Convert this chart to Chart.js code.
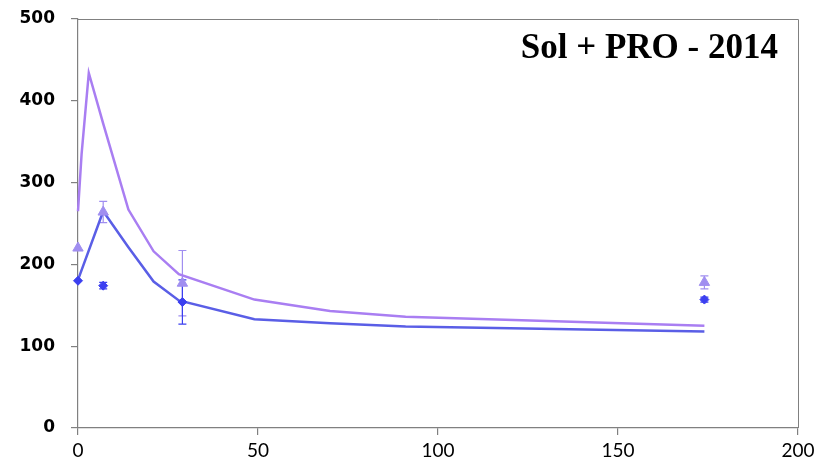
<!DOCTYPE html>
<html>
<head>
<meta charset="utf-8">
<script src="https://cdn.jsdelivr.net/npm/chart.js@4.4.1/dist/chart.umd.min.js"></script>
<style>
  body { margin: 0; background: #fff; }
  #wrap { width: 821px; height: 470px; }
</style>
</head>
<body>
<div id="wrap"><canvas id="chart"></canvas></div>
<script>
// simulated curves
const simTimesPurple = [0, 1, 3, 7, 14, 21, 28, 49, 70, 91, 174]
const simPurple = [265, 335, 434, 372, 267, 216, 188, 157, 143, 136, 125]
const simTimesBlue = [0, 7, 14, 21, 28, 49, 70, 91, 174]
const simBlue = [181, 265, 221, 179, 156, 133, 128, 124, 118]

// observed points + error
const obsTimes = [0, 7, 29, 174]
const obsBlue = [180, 174, 154, 157]
const obsBlueErr = [0, 4, 27, 3]
const obsPurple = [220, 264, 177, 178]
const obsPurpleErr = [0, 13, 40, 8]

const xTicks = [0, 50, 100, 150, 200]
const yTicks = [0, 100, 200, 300, 400, 500]
const title = 'Sol + PRO - 2014'

const purpleLine = '#a97ef2'
const blueLine = '#5a5ee6'
const blueMark = '#3b3ff0'
const purpleMark = '#a08ef0'

function pts(xs, ys) {
    return xs.map((x, i) => ({ x: x, y: ys[i] }))
}

// error bars, frame and title
const extras = {
    id: 'extras',
    beforeDatasetsDraw(chart) {
        const ctx = chart.ctx
        const xs = chart.scales.x, ys = chart.scales.y
        const bars = [[obsPurple, obsPurpleErr, purpleMark], [obsBlue, obsBlueErr, blueMark]]
        ctx.save()
        ctx.lineWidth = 1.2
        bars.forEach(b => {
            ctx.strokeStyle = b[2]
            obsTimes.forEach((t, i) => {
                if (!b[1][i]) return
                const px = xs.getPixelForValue(t)
                const top = ys.getPixelForValue(b[0][i] + b[1][i])
                const bot = ys.getPixelForValue(b[0][i] - b[1][i])
                ctx.beginPath()
                ctx.moveTo(px, top); ctx.lineTo(px, bot)
                ctx.moveTo(px - 4, top); ctx.lineTo(px + 4, top)
                ctx.moveTo(px - 4, bot); ctx.lineTo(px + 4, bot)
                ctx.stroke()
            })
        })
        ctx.restore()
    },
    afterDraw(chart) {
        const ctx = chart.ctx
        const a = chart.chartArea
        ctx.save()
        ctx.strokeStyle = '#808080'
        ctx.lineWidth = 1
        ctx.beginPath()
        ctx.moveTo(a.left, a.top + 0.5); ctx.lineTo(a.right + 0.5, a.top + 0.5)
        ctx.lineTo(a.right + 0.5, a.bottom)
        ctx.stroke()
        ctx.fillStyle = '#000'
        ctx.font = 'bold 35px "Liberation Serif", "Times New Roman", serif'
        ctx.textAlign = 'right'
        ctx.textBaseline = 'alphabetic'
        ctx.fillText(title, a.right - 20, a.top + 39)
        ctx.restore()
    }
}

new Chart(document.getElementById('chart'), {
    type: 'scatter',
    data: {
        datasets: [
            { type: 'line', data: pts(simTimesPurple, simPurple), borderColor: purpleLine, borderWidth: 2.5, pointRadius: 0, tension: 0, clip: false, order: 3 },
            { type: 'line', data: pts(simTimesBlue, simBlue), borderColor: blueLine, borderWidth: 2.5, pointRadius: 0, tension: 0, clip: false, order: 2 },
            { data: pts(obsTimes, obsPurple), pointStyle: 'triangle', pointRadius: 6, backgroundColor: purpleMark, borderColor: purpleMark, clip: false, order: 1 },
            { data: pts(obsTimes, obsBlue), pointStyle: 'rectRot', pointRadius: 4.5, backgroundColor: blueMark, borderColor: blueMark, clip: false, order: 0 }
        ]
    },
    options: {
        responsive: true,
        maintainAspectRatio: false,
        animation: false,
        layout: { padding: { top: 19, right: 23, left: 0, bottom: 0 } },
        plugins: { legend: { display: false }, tooltip: { enabled: false } },
        scales: {
            x: {
                type: 'linear', min: 0, max: 200,
                afterBuildTicks: s => { s.ticks = xTicks.map(v => ({ value: v })) },
                afterFit: s => { s.height = 42 },
                grid: { drawOnChartArea: false, tickLength: 7, color: '#808080', lineWidth: 1.2 },
                border: { color: '#808080', width: 1.2 },
                ticks: { color: '#000', font: { family: 'Lato', size: 19 }, padding: 4, maxRotation: 0 }
            },
            y: {
                min: 0, max: 500,
                afterBuildTicks: s => { s.ticks = yTicks.map(v => ({ value: v })) },
                afterFit: s => { s.width = 78; s.paddingTop = 0; s.paddingBottom = 0 },
                grid: { drawOnChartArea: false, tickLength: 7, color: '#808080', lineWidth: 1.2 },
                border: { color: '#808080', width: 1.2 },
                ticks: { color: '#000', font: { family: 'DejaVu Sans', size: 17, weight: 'bold' }, padding: 16 }
            }
        }
    },
    plugins: [extras]
})
</script>
</body>
</html>
